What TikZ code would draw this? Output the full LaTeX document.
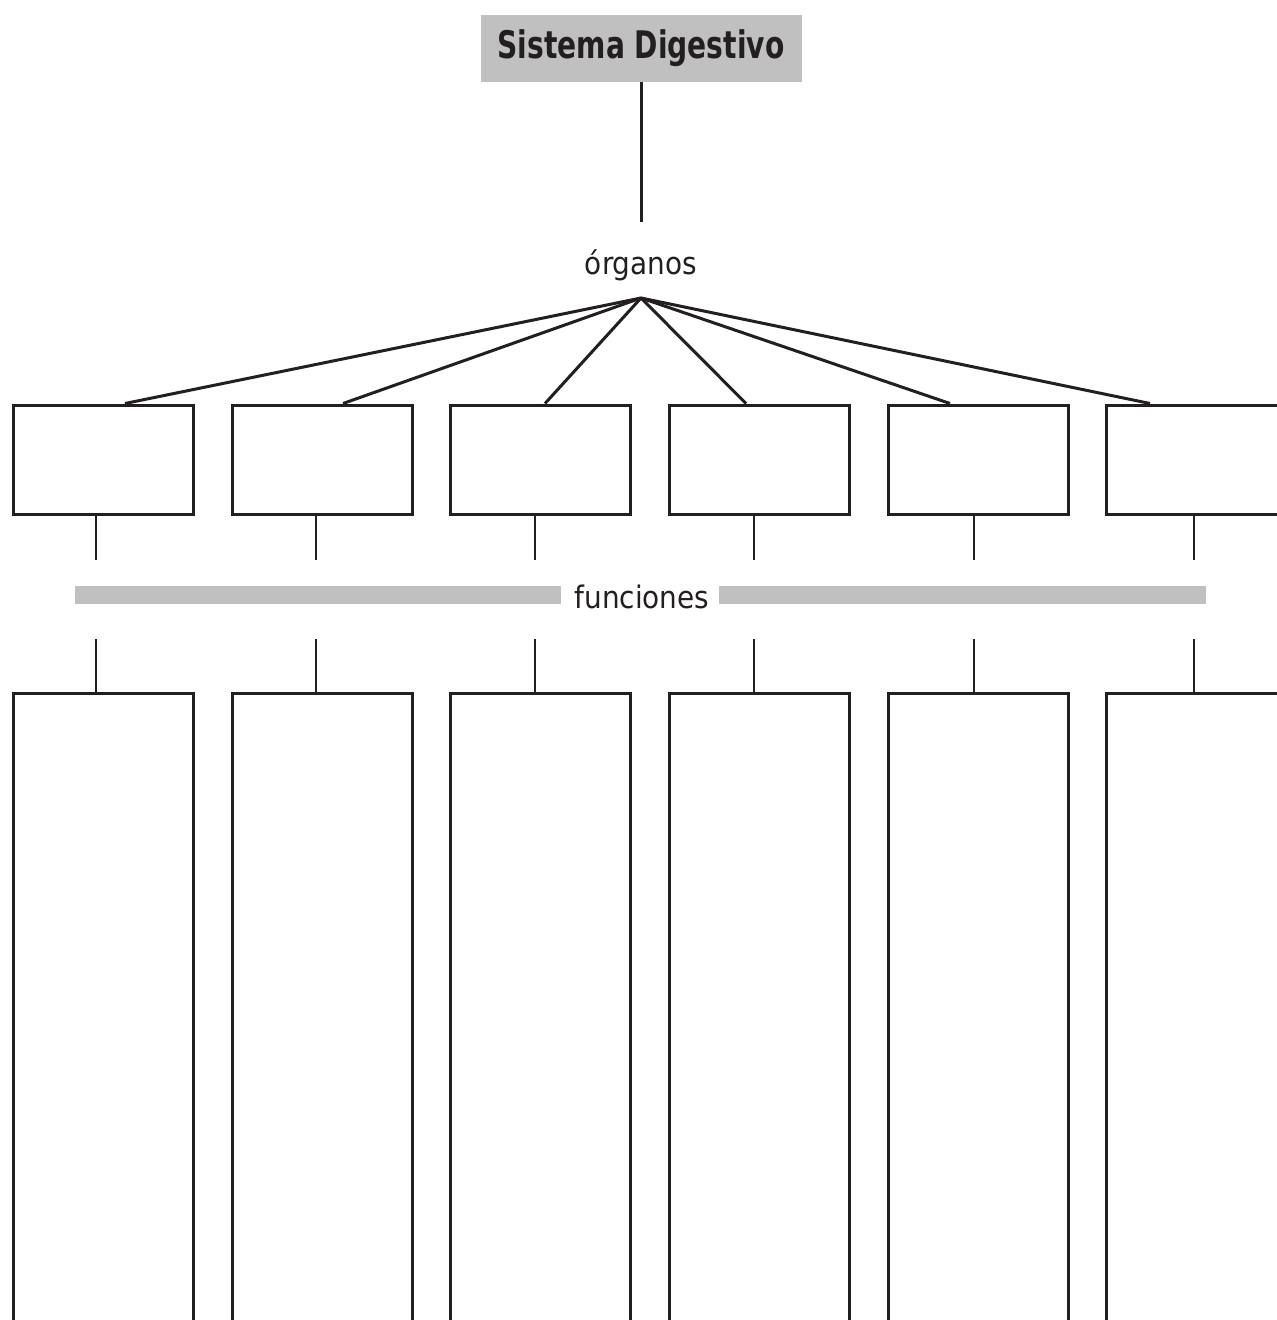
\documentclass[tikz,border=0pt]{standalone}
\usepackage{fontspec}
\setmainfont{DejaVu Sans Condensed}
\newfontfamily\titlefont[FakeStretch=0.74]{DejaVu Sans Bold}
\definecolor{barg}{RGB}{192,192,192}
\definecolor{ink}{RGB}{35,31,32}
\begin{document}
\begin{tikzpicture}[x=1pt,y=-1pt,
  ubox/.style={draw=ink, line width=3pt, minimum width=180pt, minimum height=109pt, inner sep=0pt, anchor=north west},
  lbox/.style={draw=ink, line width=3pt, minimum width=180pt, minimum height=700pt, inner sep=0pt, anchor=north west},
  gbar/.style={fill=barg, inner sep=0pt, minimum height=18pt},
  lbl/.style={font=\fontsize{31}{36}\selectfont, text=ink, inner sep=0pt, anchor=base},
  link/.style={draw=ink, line width=3pt},
  stub/.style={draw=ink, line width=2.7pt}]
\useasboundingbox (0,0) rectangle (1277,1320);
\clip (0,0) rectangle (1277,1320);

\node[fill=barg, minimum width=321pt, minimum height=67pt, inner sep=0pt] (title) at (641.5,48.5) {};
\node[lbl, font=\fontsize{38}{40}\titlefont] (titletxt) at (641,58.3) {Sistema Digestivo};
\coordinate (c0) at (641,222);
\draw[link] (title.south -| c0) -- (c0);

\node[lbl] (org) at (641,274) {órganos};
\coordinate (apex) at (641,298);

\node[gbar, minimum width=486pt] (barL) at (318,595) {};
\node[gbar, minimum width=487pt] (barR) at (962.5,595) {};
\node[lbl] (fun) at (642,608) {funciones};

\foreach \i/\bx/\sx/\tx in {1/11.5/96/125, 2/230.5/316/343, 3/448.5/535/545, 4/667.5/754/746, 5/886.5/974/950, 6/1104.5/1194/1150} {
  \node[ubox] (u\i) at (\bx,403.5) {};
  \node[lbox] (l\i) at (\bx,691.5) {};
  \coordinate (t\i) at (\tx,403.5);
  \coordinate (a\i) at (\sx,560);
  \coordinate (b\i) at (\sx,639);
  \draw[link] (apex) -- (t\i);
  \draw[stub] (u\i.south -| a\i) -- (a\i);
  \draw[stub] (b\i) -- (l\i.north -| b\i);
}
\end{tikzpicture}
\end{document}
